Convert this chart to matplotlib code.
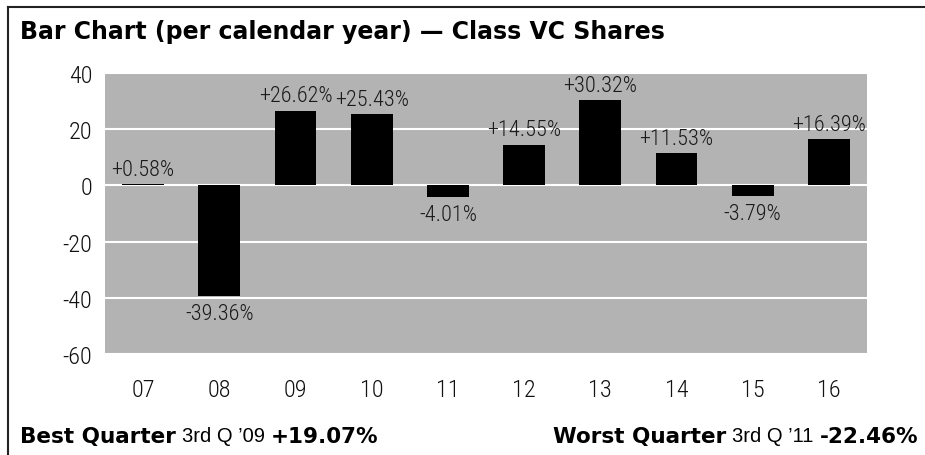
import matplotlib
matplotlib.use("Agg")
import matplotlib.pyplot as plt
from matplotlib import font_manager

years = ["07", "08", "09", "10", "11", "12", "13", "14", "15", "16"]
returns = [0.58, -39.36, 26.62, 25.43, -4.01, 14.55, 30.32, 11.53, -3.79, 16.39]
y_ticks = [40, 20, 0, -20, -40, -60]

title = "Bar Chart (per calendar year) \u2014 Class VC Shares"
best_label, best_when, best_value = "Best Quarter", "3rd Q \u201909", "+19.07%"
worst_label, worst_when, worst_value = "Worst Quarter", "3rd Q \u201911", "-22.46%"

plt.rcParams["axes.unicode_minus"] = False

# look for a condensed face; fall back to a plain sans
narrow, stretch = "Liberation Sans", "normal"
for f in font_manager.fontManager.ttflist:
    if f.name in ("Roboto Condensed", "Liberation Sans Narrow", "Open Sans Condensed"):
        narrow, stretch = f.name, "normal"
        break
    if f.name == "DejaVu Sans" and f.stretch == "condensed":
        narrow, stretch = "DejaVu Sans", "condensed"


def create_bar_chart():
    fig = plt.figure(figsize=(9.25, 4.56), dpi=100)
    ax = fig.add_axes([0.1135, 0.2215, 0.8238, 0.6162])
    ax.set_facecolor("#b3b3b3")

    x = range(len(years))
    ax.bar(x, returns, width=0.55, color="black", zorder=3)

    for i, v in enumerate(returns):
        txt = f"+{v:.2f}%" if v >= 0 else f"{v:.2f}%"
        off, va = (3, "bottom") if v >= 0 else (-5, "top")
        ax.annotate(txt, (i, v), xytext=(0, off), textcoords="offset points",
                    ha="center", va=va, fontsize=16, family=narrow,
                    fontstretch=stretch, fontweight="light", color="#1a1a1a",
                    zorder=4)

    ax.set_xlim(-0.5, len(years) - 0.5)
    ax.set_ylim(-60, 40)
    ax.set_yticks(y_ticks)
    ax.set_xticks(list(x))
    ax.set_xticklabels(years)
    for lab in ax.get_xticklabels() + ax.get_yticklabels():
        lab.set_family(narrow)
        lab.set_fontstretch(stretch)
        lab.set_fontweight("light")
        lab.set_fontsize(17.5)
        lab.set_color("#111111")
    ax.tick_params(axis="both", length=0)
    ax.tick_params(axis="y", pad=9)
    ax.tick_params(axis="x", pad=17)

    ax.grid(axis="y", color="white", linewidth=1.5, zorder=1)
    ax.set_axisbelow(True)
    for s in ax.spines.values():
        s.set_visible(False)

    # frame lines top and left
    fig.add_artist(plt.Line2D([8 / 925, 1], [1 - 8 / 456, 1 - 8 / 456],
                              color="#222222", linewidth=1.5))
    fig.add_artist(plt.Line2D([8 / 925, 8 / 925], [0, 1 - 8 / 456],
                              color="#222222", linewidth=1.5))

    fig.text(20 / 925, 1 - 32 / 456, title, fontsize=17, fontweight="bold",
             family="DejaVu Sans", va="center", ha="left")

    # footer
    fy = 1 - 437 / 456
    t1 = fig.text(20 / 925, fy, best_label, fontsize=15.5, fontweight="bold",
                  family="DejaVu Sans", va="center", ha="left")
    fig.canvas.draw()
    r = fig.canvas.get_renderer()
    bb = t1.get_window_extent(r)
    t2 = fig.text((bb.x1 + 6) / 925, fy, best_when, fontsize=14.5,
                  family="Liberation Sans", va="center", ha="left")
    bb = t2.get_window_extent(r)
    fig.text((bb.x1 + 6) / 925, fy, best_value, fontsize=15.5, fontweight="bold",
             family="DejaVu Sans", va="center", ha="left")

    t4 = fig.text(918 / 925, fy, worst_value, fontsize=15.5, fontweight="bold",
                  family="DejaVu Sans", va="center", ha="right")
    bb = t4.get_window_extent(r)
    t5 = fig.text((bb.x0 - 6) / 925, fy, worst_when, fontsize=14.5,
                  family="Liberation Sans", va="center", ha="right")
    bb = t5.get_window_extent(r)
    fig.text((bb.x0 - 6) / 925, fy, worst_label, fontsize=15.5, fontweight="bold",
             family="DejaVu Sans", va="center", ha="right")

    fig.savefig("out.png", dpi=100)


if __name__ == "__main__":
    create_bar_chart()
